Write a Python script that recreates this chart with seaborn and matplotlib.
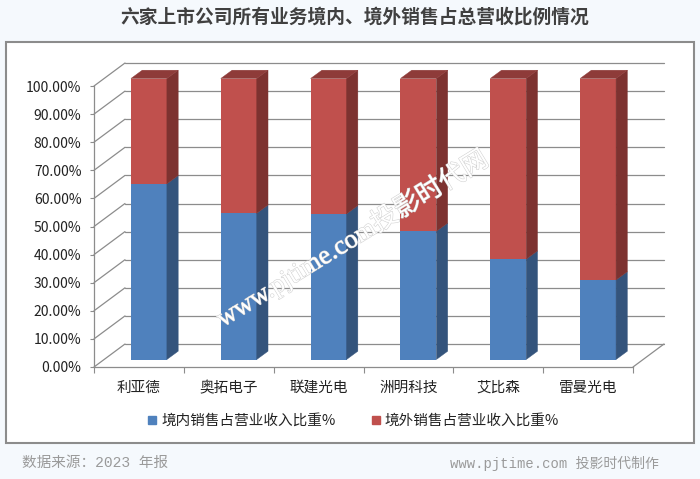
import numpy as np
import pandas as pd
import matplotlib
matplotlib.use("Agg")
import matplotlib.pyplot as plt
import seaborn as sns
from matplotlib.patches import Rectangle, Polygon
from matplotlib.lines import Line2D
from matplotlib.transforms import ScaledTranslation
import matplotlib.patheffects as pe

# ---------------- data ----------------
companies = ["利亚德", "奥拓电子", "联建光电", "洲明科技", "艾比森", "雷曼光电"]
domestic = [62.5, 52.0, 51.8, 45.6, 35.7, 28.3]
overseas = [37.5, 48.0, 48.2, 54.4, 64.3, 71.7]
series_names = ["境内销售占营业收入比重%", "境外销售占营业收入比重%"]
y_ticks = [0, 10, 20, 30, 40, 50, 60, 70, 80, 90, 100]
title = "六家上市公司所有业务境内、境外销售占总营收比例情况"
source_text = "数据来源：2023 年报"
credit_text = "www.pjtime.com 投影时代制作"
watermark = "www.pjtime.com投影时代网"

# ---------------- style ----------------
BLUE, BLUE_SIDE = "#4F81BD", "#34547C"
RED, RED_SIDE, RED_TOP = "#C0504D", "#7D3230", "#8E3B39"
GRID = "#8C8C8C"

sns.set_theme(style="white")
plt.rcParams['font.family'] = ['Noto Sans CJK SC', 'DejaVu Sans']

W, H = 700, 479
DPI = 100
fig = plt.figure(figsize=(W / DPI, H / DPI), dpi=DPI, facecolor="#F5F9FD")


def fx(px):
    return px / W


def fy(py):
    return 1 - py / H


box = Rectangle((fx(6), fy(443)), fx(694) - fx(6), fy(42) - fy(443),
                transform=fig.transFigure, facecolor="white",
                edgecolor="#8C8C8C", lw=1.5, zorder=0)
fig.add_artist(box)

ax = fig.add_axes([fx(94), fy(367), (633 - 94) / W, (367 - 86) / H], zorder=1)
ax.patch.set_alpha(0)

df = pd.DataFrame({"company": companies,
                   "domestic": domestic,
                   "total": [d + o for d, o in zip(domestic, overseas)]})

sns.barplot(data=df, x="company", y="total", color=RED, saturation=1,
            width=0.4, errorbar=None, ax=ax, zorder=3, linewidth=0)
sns.barplot(data=df, x="company", y="domestic", color=BLUE, saturation=1,
            width=0.4, errorbar=None, ax=ax, zorder=3, linewidth=0)

ax.set_xlim(-0.5, 5.5)
ax.set_ylim(0, 100)
ax.set_xlabel("")
ax.set_ylabel("")

# 3D geometry (pixel offsets)
BX, BY = 10, 7.5      # bar front face offset into depth
DX, DY = 11.3, 8.3    # bar depth
WX, WY = 31, 23       # wall depth

bar_off = ScaledTranslation(BX / DPI, BY / DPI, fig.dpi_scale_trans)


def pt(x, y, dx=0.0, dy=0.0):
    d = ax.transData.transform((x, y)) + np.array([dx, dy])
    return ax.transData.inverted().transform(d)


# back wall grid lines and side wall diagonals
for v in y_ticks:
    p0 = pt(-0.5, v)
    p1 = pt(-0.5, v, WX, WY)
    p2 = pt(5.5, v, WX, WY)
    ax.add_line(Line2D([p0[0], p1[0]], [p0[1], p1[1]], color=GRID, lw=0.9,
                       zorder=1, clip_on=False))
    ax.add_line(Line2D([p1[0], p2[0]], [p1[1], p2[1]], color=GRID, lw=0.9,
                       zorder=1, clip_on=False))
f0 = pt(5.5, 0)
f1 = pt(5.5, 0, WX, WY)
ax.add_line(Line2D([f0[0], f1[0]], [f0[1], f1[1]], color=GRID, lw=0.9,
                   zorder=1, clip_on=False))

patches = list(ax.patches)
n = len(companies)
red_patches = patches[:n]
blue_patches = patches[n:]

for p in patches:
    p.set_transform(ax.transData + bar_off)
    p.set_clip_on(False)

for rp, bp in zip(red_patches, blue_patches):
    x0 = rp.get_x()
    x1 = x0 + rp.get_width()
    top = rp.get_y() + rp.get_height()
    b = bp.get_y() + bp.get_height()
    blue_side = [pt(x1, 0, BX, BY), pt(x1, 0, BX + DX, BY + DY),
                 pt(x1, b, BX + DX, BY + DY), pt(x1, b, BX, BY)]
    red_side = [pt(x1, b, BX, BY), pt(x1, b, BX + DX, BY + DY),
                pt(x1, top, BX + DX, BY + DY), pt(x1, top, BX, BY)]
    red_top = [pt(x0, top, BX, BY), pt(x1, top, BX, BY),
               pt(x1, top, BX + DX, BY + DY), pt(x0, top, BX + DX, BY + DY)]
    for verts, col in ((blue_side, BLUE_SIDE), (red_side, RED_SIDE),
                       (red_top, RED_TOP)):
        ax.add_patch(Polygon(verts, closed=True, facecolor=col, edgecolor=col,
                             lw=0.3, zorder=3, clip_on=False))

# axes / ticks
sns.despine(ax=ax)
for s in ("left", "bottom"):
    ax.spines[s].set_color(GRID)
    ax.spines[s].set_linewidth(0.9)

ax.set_yticks(y_ticks)
ax.set_yticklabels([f"{v:.2f}%" for v in y_ticks])
ax.tick_params(axis="y", left=True, length=3, width=0.8, color=GRID,
               labelsize=10, pad=6, labelcolor="#222222")
ax.set_xticks(range(n))
ax.set_xticklabels(companies)
ax.set_xticks(np.arange(-0.5, n, 1), minor=True)
ax.tick_params(axis="x", which="major", bottom=False, length=0, labelsize=10.5,
               pad=10, labelcolor="#222222")
ax.tick_params(axis="x", which="minor", bottom=True, length=4, width=0.8,
               color=GRID)
ax.grid(False)

# legend
handles = [Line2D([], [], marker="s", linestyle="", markersize=6,
                  markerfacecolor=BLUE, markeredgecolor=BLUE),
           Line2D([], [], marker="s", linestyle="", markersize=6,
                  markerfacecolor=RED, markeredgecolor=RED)]
fig.legend(handles, series_names, loc="center",
           bbox_to_anchor=(fx(353), fy(421)), ncol=2, frameon=False,
           fontsize=10.5, handlelength=0.7, handletextpad=0.25,
           columnspacing=2.4, labelcolor="#222222")

# texts
fig.text(fx(355), fy(17), title, ha="center", va="center", fontsize=13.5,
         fontweight="bold", color="#404040")
fig.text(fx(22), fy(463), source_text, ha="left", va="center",
         fontsize=10.5, color="#9A9A9A",
         family=["Liberation Mono", "Noto Sans CJK SC"])
fig.text(fx(659), fy(463), credit_text, ha="right", va="center",
         fontsize=10, color="#9A9A9A",
         family=["Liberation Mono", "Noto Sans CJK SC"])
fig.text(fx(352), fy(238), watermark, ha="center", va="center",
         rotation=31.5, fontsize=19, color="white", zorder=10,
         family=["Liberation Serif", "Noto Sans CJK SC"], fontweight="light",
         path_effects=[pe.withStroke(linewidth=0.8, foreground="#D2D2D2")])

fig.savefig("out.png", dpi=DPI, facecolor=fig.get_facecolor())
